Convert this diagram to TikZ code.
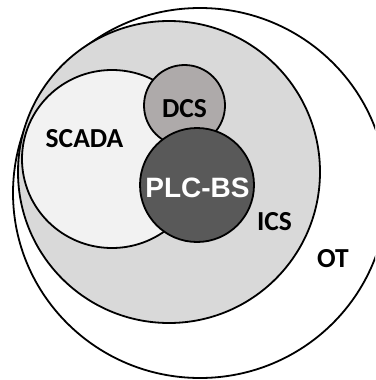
\documentclass[tikz,border=0pt]{standalone}
\usepackage{fontspec}
\setmainfont{Carlito}
\newfontfamily\plcfont{Liberation Sans}
\usetikzlibrary{shapes.geometric}
\definecolor{icsgray}{HTML}{D9D9D9}
\definecolor{scadagray}{HTML}{F2F2F2}
\definecolor{dcsgray}{HTML}{AEAAAA}
\definecolor{plcgray}{HTML}{595959}
\tikzset{
  setbox/.style={draw=black, line width=1.8pt, inner sep=0pt, outer sep=0pt},
  setlabel/.style={font=\fontsize{27.5}{27.5}\selectfont\bfseries, inner sep=0pt, text=black},
}
\begin{document}
\begin{tikzpicture}[x=1pt,y=-1pt]
  \useasboundingbox (0,0) rectangle (375,380);
  \clip (0,0) rectangle (375,380);
  % nested sets, outermost first
  \node[setbox, ellipse, fill=white, minimum width=374pt, minimum height=370pt] (ot) at (200,193) {};
  \node[setbox, circle, fill=icsgray, minimum size=302pt] (ics) at (169,172) {};
  \node[setbox, ellipse, fill=scadagray, minimum width=180pt, minimum height=178pt] (scada) at (112,159) {};
  \node[setbox, circle, fill=dcsgray, minimum size=81pt] (dcs) at (184.5,105.5) {};
  \node[setbox, circle, fill=plcgray, minimum size=114pt] (plc) at (197,185) {};
  % labels
  \node[setlabel] (scadalabel) at (84.5,138.5) {SCADA};
  \node[setlabel] (dcslabel) at (184.5,108.5) {DCS};
  \node[font=\fontsize{28}{28}\selectfont\plcfont\bfseries, inner sep=0pt, text=white] (plclabel) at (197.5,187.5) {PLC-BS};
  \node[setlabel] (icslabel) at (274.5,221.5) {ICS};
  \node[setlabel] (otlabel) at (333,258.5) {OT};
\end{tikzpicture}
\end{document}
